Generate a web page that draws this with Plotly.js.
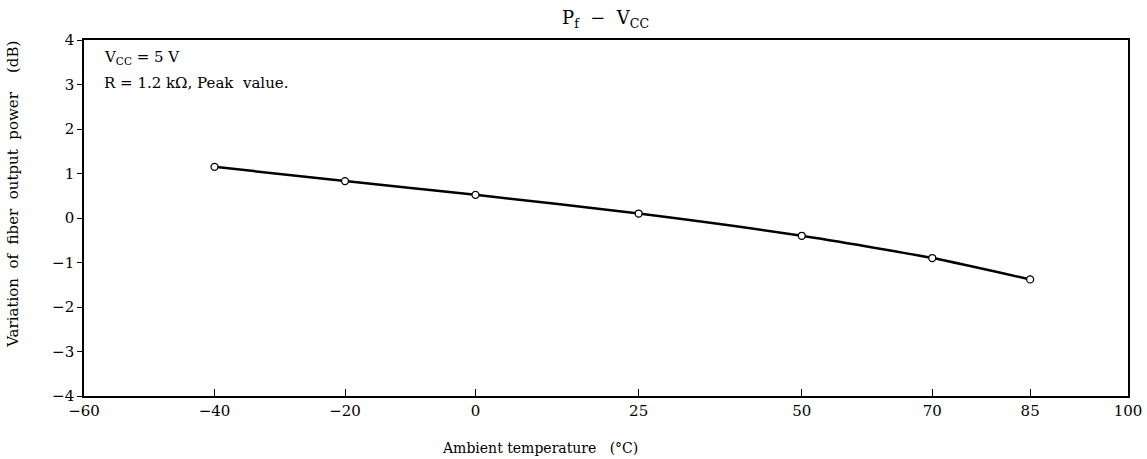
<!DOCTYPE html>
<html>
<head>
<meta charset="utf-8">
<script src="https://cdn.plot.ly/plotly-3.0.1.min.js"></script>
<style>html,body{margin:0;padding:0;background:#fff;}#chart{width:1147px;height:459px;}</style>
</head>
<body>
<div id="chart"></div>
<script>
const temperatures = [-40, -20, 0, 25, 50, 70, 85];
const powerVariation = [1.15, 0.83, 0.52, 0.10, -0.40, -0.90, -1.38];
const xTicks = [-60, -40, -20, 0, 25, 50, 70, 85, 100];
const yTicks = [-4, -3, -2, -1, 0, 1, 2, 3, 4];

const font = {family: 'DejaVu Serif, Liberation Serif, serif', color: '#000'};
const f = s => Object.assign({size: s}, font);
const minusLabel = v => v < 0 ? '−' + Math.abs(v) : String(v);

const trace = {
  x: temperatures,
  y: powerVariation,
  type: 'scatter',
  mode: 'lines+markers',
  line: {color: '#000', width: 2.5, shape: 'spline', smoothing: 0.6},
  marker: {symbol: 'circle', size: 7, color: '#fff', line: {color: '#000', width: 1.3}},
  hoverinfo: 'skip'
};

const layout = {
  width: 1147, height: 459,
  margin: {l: 84, r: 19, t: 40, b: 63},
  paper_bgcolor: '#fff', plot_bgcolor: '#fff',
  showlegend: false,
  font: f(13),
  title: {text: 'P<sub>f</sub>  −  V<sub>CC</sub>', x: 0.528, xanchor: 'center', y: 0.962, yanchor: 'middle', font: f(18)},
  xaxis: {
    range: [-60, 100], tickvals: xTicks, ticktext: xTicks.map(minusLabel),
    showgrid: false, zeroline: false, showline: true, mirror: true, linecolor: '#000', linewidth: 1.8,
    ticks: 'inside', ticklen: 7, tickwidth: 1, tickcolor: '#000',
    tickfont: f(15)
  },
  yaxis: {
    range: [-4, 4], tickvals: yTicks, ticktext: yTicks.map(minusLabel),
    showgrid: false, zeroline: false, showline: true, mirror: true, linecolor: '#000', linewidth: 1.8,
    ticks: 'outside', ticklen: 5, tickwidth: 1, tickcolor: '#000',
    tickfont: f(15)
  },
  annotations: [
    {text: 'V<sub>CC</sub> = 5 V', xref: 'paper', yref: 'paper', x: 0.017, y: 0.95, xanchor: 'left', yanchor: 'middle', showarrow: false, font: f(15)},
    {text: 'R = 1.2 kΩ, Peak  value.', xref: 'paper', yref: 'paper', x: 0.017, y: 0.878, xanchor: 'left', yanchor: 'middle', showarrow: false, font: f(15)},
    {text: 'Ambient temperature   (°C)', xref: 'paper', yref: 'paper', x: 0.437, y: -0.145, xanchor: 'center', yanchor: 'middle', showarrow: false, font: f(14)},
    {text: 'Variation  of  fiber  output  power    (dB)', xref: 'paper', yref: 'paper', x: -0.068, y: 0.565, xanchor: 'center', yanchor: 'middle', textangle: -90, showarrow: false, font: f(15)}
  ]
};

Plotly.newPlot('chart', [trace], layout, {displayModeBar: false, staticPlot: true});
</script>
</body>
</html>
